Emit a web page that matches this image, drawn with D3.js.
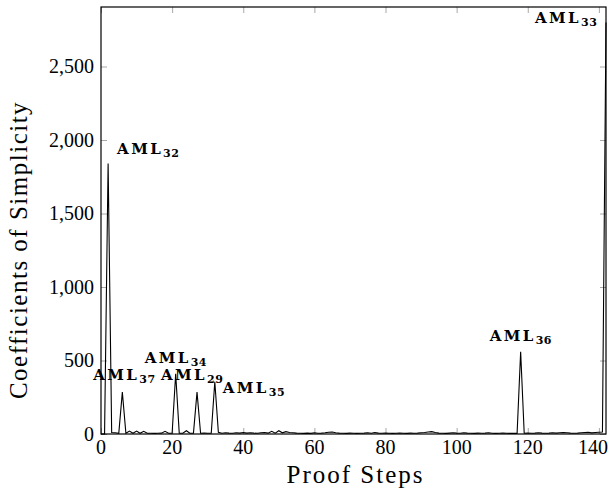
<!DOCTYPE html>
<html>
<head>
<meta charset="utf-8">
<script src="https://cdn.jsdelivr.net/npm/d3@7"></script>
<style>
  body { margin: 0; background: #fff; }
  text { font-family: "Liberation Serif", serif; fill: #000; }
  .peak { font-family: "DejaVu Serif", serif; font-weight: bold; }
</style>
</head>
<body>
<div id="chart"></div>
<script>
// coefficient per proof step (step = index)
var coeffs = [
  0, 0, 1840, 10, 8, 5, 285, 5, 20, 5,
  20, 5, 18, 5, 5, 4, 5, 6, 18, 5,
  5, 410, 6, 5, 22, 5, 6, 285, 5, 6,
  5, 5, 355, 12, 5, 8, 6, 5, 8, 6,
  10, 6, 8, 6, 5, 8, 10, 6, 18, 6,
  22, 8, 16, 10, 8, 6, 5, 4, 6, 4,
  8, 5, 6, 8, 12, 14, 8, 6, 5, 4,
  6, 5, 4, 5, 6, 8, 5, 10, 6, 5,
  6, 5, 4, 5, 6, 5, 4, 6, 5, 6,
  8, 10, 14, 16, 10, 6, 5, 4, 6, 8,
  6, 5, 8, 6, 5, 4, 6, 5, 6, 8,
  5, 4, 5, 6, 5, 4, 5, 4, 560, 5,
  6, 5, 6, 8, 6, 5, 6, 8, 6, 8,
  10, 8, 6, 5, 6, 8, 10, 12, 8, 10,
  12, 14, 2800
];
var xTicks = [0, 20, 40, 60, 80, 100, 120, 140];
var yTicks = [0, 500, 1000, 1500, 2000, 2500];
var peakNames = ["32", "37", "34", "29", "35", "36", "33"];
var peakSteps = [2, 6, 21, 27, 32, 118, 142];

var W = 609, H = 493;
var pl = 101, pr = 606, pt = 7, pb = 434;

var svg = d3.select('#chart').append('svg')
  .attr('width', W).attr('height', H);

var x = d3.scaleLinear().domain([0, 142]).range([pl, pr]);
var y = d3.scaleLinear().domain([0, 2905]).range([pb, pt]);

// tick marks on all four sides, drawn inwards
var tickLen = 6, tickCol = '#a8a8a8';
function tickAxis(axisFn, scale, ticks, tr) {
  var g = svg.append('g').attr('transform', tr)
    .call(axisFn(scale).tickValues(ticks).tickSize(tickLen).tickFormat(''));
  g.select('.domain').remove();
  g.selectAll('line').attr('stroke', tickCol).attr('stroke-width', 1);
  return g;
}
tickAxis(d3.axisTop, x, xTicks, 'translate(0,' + pb + ')');
tickAxis(d3.axisBottom, x, xTicks, 'translate(0,' + pt + ')');
tickAxis(d3.axisRight, y, yTicks, 'translate(' + pl + ',0)');
tickAxis(d3.axisLeft, y, yTicks, 'translate(' + pr + ',0)');

// tick labels
svg.append('g').selectAll('text').data(xTicks).enter().append('text')
  .attr('x', function(d){ return Math.min(x(d), 593); }).attr('y', 454)
  .attr('text-anchor', 'middle').attr('font-size', 20)
  .text(function(d){ return d; });
svg.append('g').selectAll('text').data(yTicks).enter().append('text')
  .attr('x', 94).attr('y', function(d){ return y(d); }).attr('dy', '0.33em')
  .attr('text-anchor', 'end').attr('font-size', 20)
  .text(d3.format(','));

// data line
var line = d3.line()
  .x(function(d, i){ return x(i); })
  .y(function(d){ return y(d); });
svg.append('path').datum(coeffs)
  .attr('d', line).attr('fill', 'none')
  .attr('stroke', '#000').attr('stroke-width', 1.1)
  .attr('stroke-linejoin', 'miter');

// frame
svg.append('rect')
  .attr('x', pl).attr('y', pt)
  .attr('width', pr - pl).attr('height', pb - pt)
  .attr('fill', 'none').attr('stroke', '#000').attr('stroke-width', 1.2);

// peak labels, offset from their point
var labelDx = [9, -29, -31, -36, 8, -31, -71];
var labelDy = [-10, -12, -11, -12, 11, -11, 1];
var labels = svg.append('g').selectAll('text').data(peakSteps).enter().append('text')
  .attr('class', 'peak')
  .attr('x', function(d, i){ return x(d) + labelDx[i]; })
  .attr('y', function(d, i){ return y(coeffs[d]) + labelDy[i]; })
  .attr('font-size', 15).attr('letter-spacing', 2.4);
labels.append('tspan').text('AML');
labels.append('tspan').attr('dy', 3).attr('font-size', 11).attr('letter-spacing', 0.5)
  .text(function(d, i){ return peakNames[i]; });

// axis titles
svg.append('text')
  .attr('x', (pl + pr) / 2 + 2).attr('y', 483)
  .attr('text-anchor', 'middle').attr('font-size', 25).attr('letter-spacing', 2)
  .text('Proof Steps');
svg.append('text')
  .attr('transform', 'translate(27,250) rotate(-90)')
  .attr('text-anchor', 'middle').attr('font-size', 25).attr('letter-spacing', 1.5)
  .text('Coefficients of Simplicity');
</script>
</body>
</html>
